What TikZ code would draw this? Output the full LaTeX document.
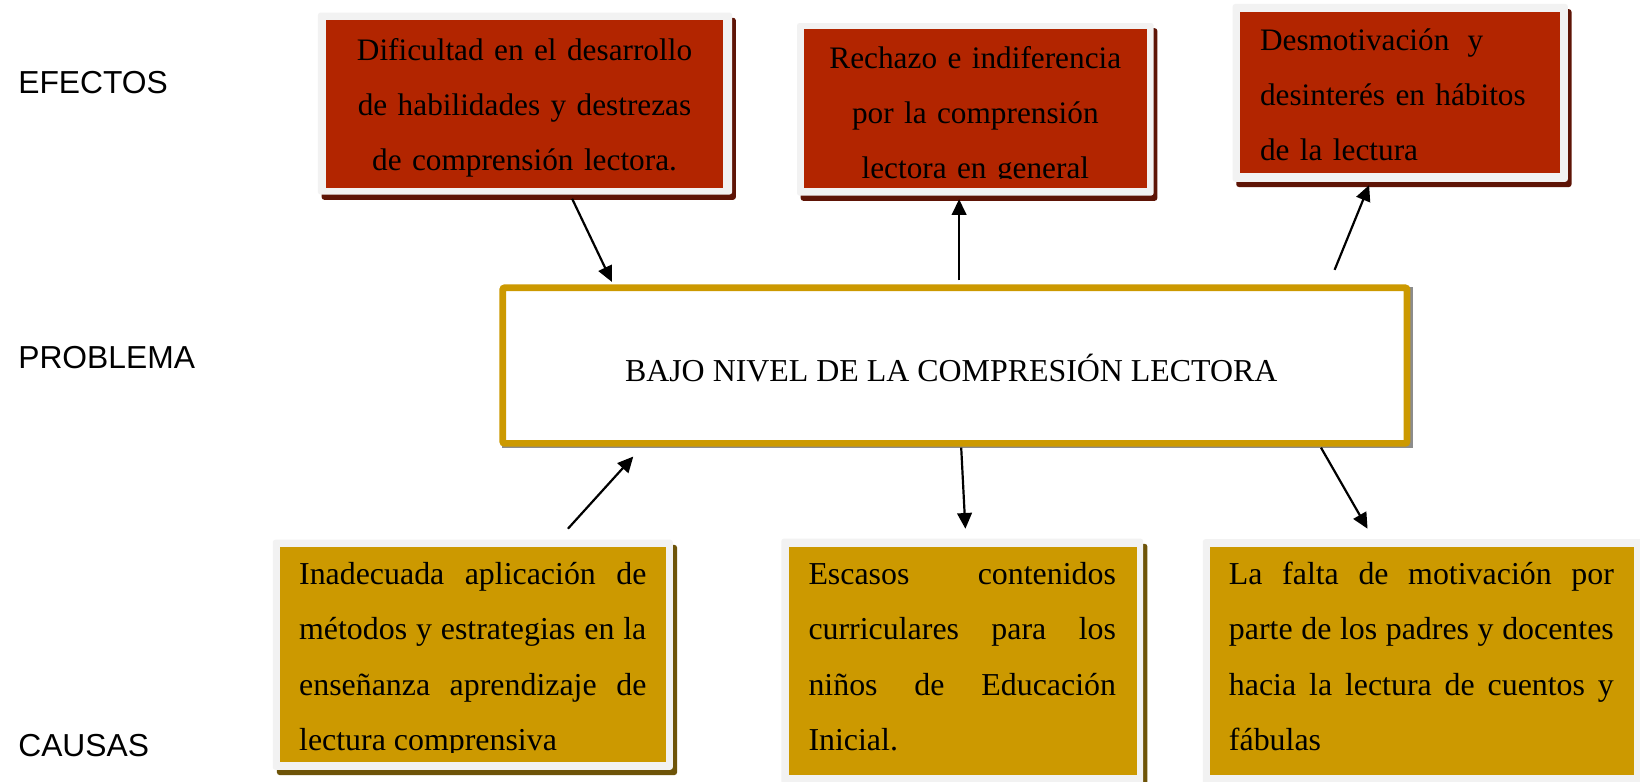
\documentclass[tikz,border=0pt]{standalone}
\usepackage{fontspec}
\setmainfont{Liberation Serif}
\newfontfamily\lblfont{Liberation Sans}
\usetikzlibrary{arrows.meta,shadows}
\definecolor{boxred}{RGB}{178,37,0}
\definecolor{redshadow}{RGB}{94,20,6}
\definecolor{boxgold}{RGB}{204,153,0}
\definecolor{goldshadow}{RGB}{110,84,8}
\definecolor{framegray}{RGB}{242,242,242}
\definecolor{midshadow}{RGB}{140,140,140}
\hyphenpenalty=10000
\exhyphenpenalty=10000
\begin{document}
\begin{tikzpicture}[x=1pt,y=-1pt,
  frameR/.style={fill=framegray, rounded corners=2.5pt, inner sep=0pt, outer sep=0pt, anchor=north west,
     drop shadow={shadow xshift=3.5pt, shadow yshift=-5pt, fill=redshadow, opacity=1}},
  frameG/.style={fill=framegray, rounded corners=2.5pt, inner sep=0pt, outer sep=0pt, anchor=north west,
     drop shadow={shadow xshift=4pt, shadow yshift=-5pt, fill=goldshadow, opacity=1}},
  innerR/.style={fill=boxred, inner sep=0pt, outer sep=0pt, anchor=north west},
  innerG/.style={fill=boxgold, inner sep=0pt, outer sep=0pt, anchor=north west},
  txt/.style={inner sep=0pt, outer sep=0pt, font=\fontsize{30.5}{52.8}\selectfont},
  txtR/.style={inner sep=0pt, outer sep=0pt, font=\fontsize{29.9}{52.6}\selectfont},
  lbl/.style={inner sep=0pt, outer sep=0pt, anchor=base west, font=\lblfont\fontsize{30.4}{34}\selectfont},
  arr/.style={line width=2.1pt, -{Triangle[length=15pt,width=14pt]}}
]
\useasboundingbox[fill=white] (0,0) rectangle (1568,747);

% labels
\node[lbl] (lefectos) at (17.5,89.2) {EFECTOS};
\node[lbl] (lproblema) at (17.5,352.5) {PROBLEMA};
\node[lbl] (lcausas) at (17.5,723.5) {CAUSAS};

% ---- effect 1
\node[frameR, minimum width=396pt, minimum height=174pt] (e1) at (304,12) {};
\node[innerR, minimum width=379pt, minimum height=161pt] (e1in) at (312,19) {};
\node[txtR, anchor=base, text width=379pt, align=center] (e1t) at (501.5,57.5)
  {Dificultad en el desarrollo\\de habilidades y destrezas\\de comprensión lectora.};

% ---- effect 2
\node[frameR, minimum width=341pt, minimum height=165pt] (e2) at (762,22) {};
\node[innerR, minimum width=328pt, minimum height=152pt] (e2in) at (768.5,28) {};
\begin{scope}
  \clip (768.5,28) rectangle (1096.5,170.5);
  \node[txtR, anchor=base, text width=328pt, align=center] (e2t) at (932.5,65.8)
    {Rechazo e indiferencia\\por la comprensión\\lectora en general};
\end{scope}

% ---- effect 3
\node[frameR, minimum width=320.5pt, minimum height=170pt] (e3) at (1178.5,3.8) {};
\node[innerR, minimum width=306pt, minimum height=154.5pt] (e3in) at (1185.6,11.2) {};
\node[txtR, anchor=base west, text width=290pt, align=left] (e3t) at (1204.7,48.3)
  {Desmotivación{}\hspace{7.5pt}{} y\\desinterés en hábitos\\de la lectura};

% ---- central problem
\fill[midshadow] (480,274) rectangle (1351,428.5);
\node[draw=boxgold, line width=6.4pt, fill=white, rounded corners=2pt, inner sep=0pt, outer sep=3.2pt,
  minimum width=864.7pt, minimum height=148.8pt, anchor=north west] (prob) at (477.4,271.9) {};
\node[txt, anchor=base] (probt) at (909.5,365) {BAJO NIVEL DE LA COMPRESIÓN LECTORA};

% ---- cause 1
\node[frameG, minimum width=382.5pt, minimum height=220pt] (c1) at (260.8,516) {};
\node[innerG, minimum width=369pt, minimum height=206.3pt] (c1in) at (267.7,522.7) {};
\begin{scope}
  \clip (267.7,522.7) rectangle (636.7,719.6);
  \node[txt, anchor=base west, text width=332pt, align=justify] (c1t) at (286,559)
    {Inadecuada aplicación de\linebreak métodos y estrategias en la\linebreak enseñanza aprendizaje de\linebreak lectura comprensiva};
\end{scope}

% ---- cause 2
\node[frameG, minimum width=346pt, minimum height=240pt] (c2) at (747,515) {};
\node[innerG, minimum width=333pt, minimum height=218pt] (c2in) at (754,523) {};
\node[txt, anchor=base west, text width=294pt, align=justify] (c2t) at (773,559)
  {Escasos contenidos\linebreak curriculares para los\linebreak niños de Educación\linebreak Inicial.};

% ---- cause 3
\node[frameG, minimum width=430pt, minimum height=240pt] (c3) at (1150,515.5) {};
\node[innerG, minimum width=405pt, minimum height=218pt] (c3in) at (1157,523) {};
\node[txt, anchor=base west, text width=368pt, align=justify] (c3t) at (1175,559)
  {La falta de motivación por\linebreak parte de los padres y docentes\linebreak hacia la lectura de cuentos y\linebreak fábulas};

% ---- arrow end points
\coordinate (a1s) at (547,190);   \coordinate (a1e) at (585,269.5);
\coordinate (a2s) at (917,268);   \coordinate (a2e) at (917,190.5);
\coordinate (a3s) at (1276,258);  \coordinate (a3e) at (1309,177);
\coordinate (a4s) at (543,505.5); \coordinate (a4e) at (605.5,436.5);
\coordinate (a5s) at (919,428);   \coordinate (a5e) at (923,505.5);
\coordinate (a6s) at (1263,428);  \coordinate (a6e) at (1307.5,505.5);

\draw[arr] (a1s) -- (a1e);
\draw[arr] (a2s) -- (a2e);
\draw[arr] (a3s) -- (a3e);
\draw[arr] (a4s) -- (a4e);
\draw[arr] (a5s) -- (a5e);
\draw[arr] (a6s) -- (a6e);
\end{tikzpicture}
\end{document}
